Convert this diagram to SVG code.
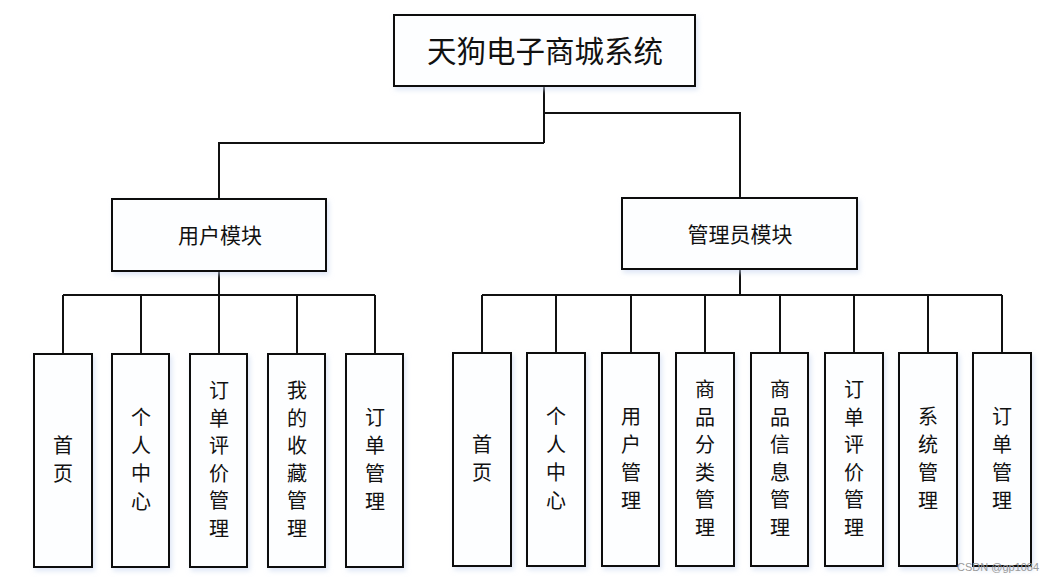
<svg xmlns="http://www.w3.org/2000/svg" width="1056" height="583" viewBox="0 0 1056 583">
<defs>
<filter id="sh" x="-20%" y="-20%" width="140%" height="140%">
<feDropShadow dx="2" dy="3" stdDeviation="2.5" flood-color="#c9d6f0" flood-opacity="0.6"/>
</filter>
<style>
.box{fill:#fdfeff;stroke:#111;stroke-width:2;filter:url(#sh)}
.conn{fill:none;stroke:#111;stroke-width:2}
.title{font-family:"Noto Sans CJK SC","Noto Sans CJK JP",sans-serif;font-size:29.5px;fill:#111;text-anchor:middle}
.mod{font-family:"Noto Sans CJK SC","Noto Sans CJK JP",sans-serif;font-size:21px;fill:#111;text-anchor:middle}
.leaf{font-family:"Noto Sans CJK SC","Noto Sans CJK JP",sans-serif;font-size:20px;fill:#111;text-anchor:middle}
.wm{font-family:"Liberation Sans",sans-serif;font-size:11px;fill:#999}
</style>
</defs>
<rect width="1056" height="583" fill="#ffffff"/>
<g id="connectors">
<path class="conn" d="M544 86V143M544 113H740V198M544 143H219V199"/>
<path class="conn" d="M219 271V295M63 295H375M63 295V354M141 295V354M219 295V354M297 295V354M375 295V354"/>
<path class="conn" d="M740 269V295" stroke-width="3"/>
<path class="conn" d="M482 295H1002M482 295V353M556 295V353M631 295V353M705 295V353M780 295V353M854 295V353M928 295V353M1002 295V353"/>
</g>
<g id="root"><rect class="box" x="394" y="15" width="301" height="71"/><text class="title" x="545" y="62">天狗电子商城系统</text></g>
<g id="user"><rect class="box" x="112" y="199" width="214" height="72"/><text class="mod" x="220" y="243">用户模块</text></g>
<g id="admin"><rect class="box" x="622" y="198" width="235" height="71"/><text class="mod" x="740" y="242">管理员模块</text></g>

<g id="u1"><rect class="box" x="34" y="354" width="58" height="213"/><text class="leaf" x="63" y="453"><tspan x="63">首</tspan><tspan x="63" dy="28">页</tspan></text></g>
<g id="u2"><rect class="box" x="112" y="354" width="57" height="213"/><text class="leaf" x="141" y="425"><tspan x="141">个</tspan><tspan x="141" dy="28">人</tspan><tspan x="141" dy="28">中</tspan><tspan x="141" dy="28">心</tspan></text></g>
<g id="u3"><rect class="box" x="190" y="354" width="57" height="213"/><text class="leaf" x="219" y="398"><tspan x="219">订</tspan><tspan x="219" dy="27.6">单</tspan><tspan x="219" dy="27.6">评</tspan><tspan x="219" dy="27.6">价</tspan><tspan x="219" dy="27.6">管</tspan><tspan x="219" dy="27.6">理</tspan></text></g>
<g id="u4"><rect class="box" x="268" y="354" width="57" height="213"/><text class="leaf" x="297" y="398"><tspan x="297">我</tspan><tspan x="297" dy="27.6">的</tspan><tspan x="297" dy="27.6">收</tspan><tspan x="297" dy="27.6">藏</tspan><tspan x="297" dy="27.6">管</tspan><tspan x="297" dy="27.6">理</tspan></text></g>
<g id="u5"><rect class="box" x="346" y="354" width="57" height="213"/><text class="leaf" x="375" y="425"><tspan x="375">订</tspan><tspan x="375" dy="28">单</tspan><tspan x="375" dy="28">管</tspan><tspan x="375" dy="28">理</tspan></text></g>

<g id="a1"><rect class="box" x="453" y="353" width="58" height="213"/><text class="leaf" x="482" y="452"><tspan x="482">首</tspan><tspan x="482" dy="28">页</tspan></text></g>
<g id="a2"><rect class="box" x="527" y="353" width="58" height="213"/><text class="leaf" x="556" y="424"><tspan x="556">个</tspan><tspan x="556" dy="28">人</tspan><tspan x="556" dy="28">中</tspan><tspan x="556" dy="28">心</tspan></text></g>
<g id="a3"><rect class="box" x="602" y="353" width="57" height="213"/><text class="leaf" x="631" y="424"><tspan x="631">用</tspan><tspan x="631" dy="28">户</tspan><tspan x="631" dy="28">管</tspan><tspan x="631" dy="28">理</tspan></text></g>
<g id="a4"><rect class="box" x="676" y="353" width="58" height="213"/><text class="leaf" x="705" y="397"><tspan x="705">商</tspan><tspan x="705" dy="27.6">品</tspan><tspan x="705" dy="27.6">分</tspan><tspan x="705" dy="27.6">类</tspan><tspan x="705" dy="27.6">管</tspan><tspan x="705" dy="27.6">理</tspan></text></g>
<g id="a5"><rect class="box" x="751" y="353" width="57" height="213"/><text class="leaf" x="780" y="397"><tspan x="780">商</tspan><tspan x="780" dy="27.6">品</tspan><tspan x="780" dy="27.6">信</tspan><tspan x="780" dy="27.6">息</tspan><tspan x="780" dy="27.6">管</tspan><tspan x="780" dy="27.6">理</tspan></text></g>
<g id="a6"><rect class="box" x="825" y="353" width="58" height="213"/><text class="leaf" x="854" y="397"><tspan x="854">订</tspan><tspan x="854" dy="27.6">单</tspan><tspan x="854" dy="27.6">评</tspan><tspan x="854" dy="27.6">价</tspan><tspan x="854" dy="27.6">管</tspan><tspan x="854" dy="27.6">理</tspan></text></g>
<g id="a7"><rect class="box" x="899" y="353" width="58" height="213"/><text class="leaf" x="928" y="424"><tspan x="928">系</tspan><tspan x="928" dy="28">统</tspan><tspan x="928" dy="28">管</tspan><tspan x="928" dy="28">理</tspan></text></g>
<g id="a8"><rect class="box" x="973" y="353" width="58" height="213"/><text class="leaf" x="1002" y="424"><tspan x="1002">订</tspan><tspan x="1002" dy="28">单</tspan><tspan x="1002" dy="28">管</tspan><tspan x="1002" dy="28">理</tspan></text></g>

<text class="wm" x="957" y="571">CSDN @gp1084</text>
</svg>
